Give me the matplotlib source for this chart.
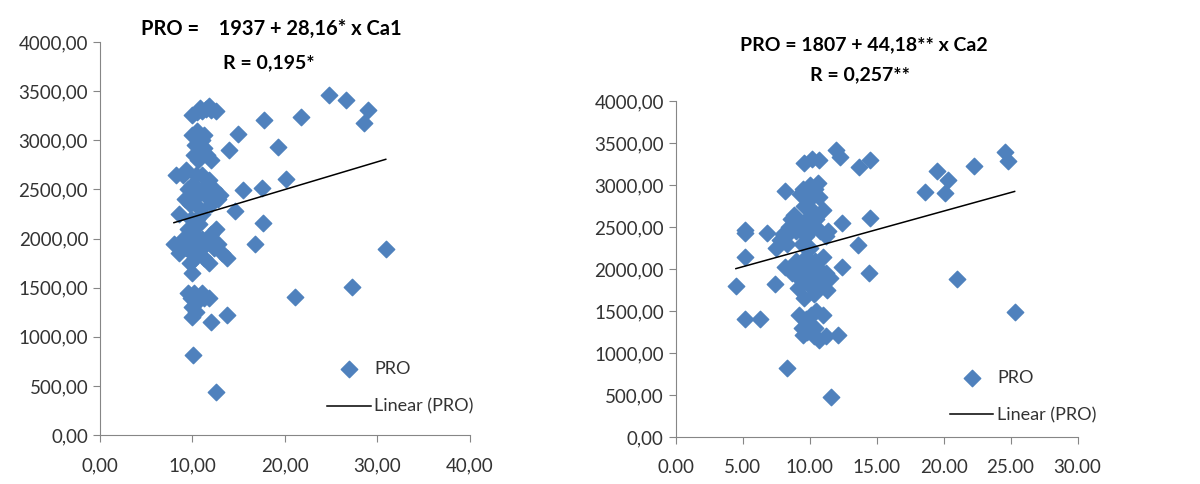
import numpy as np
import matplotlib.pyplot as plt
from matplotlib.ticker import FuncFormatter, MultipleLocator

plt.rcParams['font.family'] = ['Lato', 'DejaVu Sans']

blue = '#4F81BD'
grey = '#868686'

# left panel: Ca1 vs PRO
ca1 = [24.8, 26.6, 29.0, 28.5, 21.7, 17.7, 14.9, 14.0, 19.3, 20.1, 17.5, 15.5, 14.6, 13.0,
       17.6, 16.8, 30.9, 27.2, 21.1, 13.7, 12.0, 10.1, 12.5,
       10.0, 10.5, 11.0, 11.5, 12.0, 12.5, 10.8, 11.8,
       10.0, 10.3, 10.5, 10.2, 10.8, 11.0, 11.3, 11.6, 12.0, 10.6, 11.2,
       8.2, 8.5, 9.0, 9.3, 9.5, 9.7, 10.0, 10.2, 10.4, 10.6, 10.8, 11.0, 11.2, 11.5, 11.8,
       12.0, 12.3, 12.8, 9.8, 10.5, 11.0, 9.2,
       8.0, 8.5, 9.0, 9.3, 9.5, 9.8, 10.0, 10.2, 10.5, 10.7, 11.0, 11.3, 11.5, 11.8, 12.0,
       12.3, 12.8, 13.2, 13.7, 12.5, 10.3, 9.7,
       10.0,
       9.5, 9.8, 10.0, 10.2, 10.0, 10.5, 11.0, 11.3, 11.8, 10.4]
pro1 = [3460, 3410, 3308, 3175, 3240, 3210, 3065, 2900, 2935, 2605, 2520, 2490, 2280, 2440,
        2155, 1950, 1890, 1505, 1405, 1220, 1150, 815, 440,
        3260, 3290, 3300, 3320, 3310, 3300, 3330, 3350,
        3050, 2950, 3100, 2850, 2900, 3000, 3050, 2850, 2800, 2800, 2920,
        2650, 2250, 2650, 2700, 2500, 2350, 2550, 2400, 2650, 2500, 2300, 2650, 2450, 2550, 2600,
        2350, 2500, 2400, 2200, 2200, 2250, 2400,
        1950, 1850, 2000, 1900, 2100, 1950, 1850, 2050, 1900, 2150, 2000, 1800, 1950, 1750, 2050,
        1900, 1950, 1850, 1800, 2100, 1800, 1750,
        1650,
        1450, 1400, 1300, 1450, 1200, 1350, 1450, 1400, 1400, 1250]

# right panel: Ca2 vs PRO
ca2 = [4.5, 5.2, 5.2, 5.2, 5.2, 6.3, 6.8, 7.4, 8.3, 11.6, 8.2, 12.1, 12.4, 12.4, 10.7, 10.7,
       12.0, 12.3, 13.6, 13.7, 14.5, 14.5, 14.4, 18.6, 19.5, 20.3, 20.1, 22.3, 24.6, 24.8,
       21.0, 25.3, 9.6, 10.2,
       7.8, 8.0, 8.3, 8.5, 8.6, 8.8, 9.0, 9.2, 9.3, 9.5, 9.6, 9.7, 9.8, 10.0, 10.1, 10.2, 10.3,
       10.4, 10.5, 10.6, 10.8, 11.0, 11.2, 11.4, 7.5, 8.2, 9.4, 10.0, 9.9,
       8.2, 8.7, 9.0, 9.2, 9.4, 9.5, 9.7, 9.8, 10.0, 10.0, 10.2, 10.4, 10.5, 10.7, 10.8, 11.0,
       11.2, 11.3, 11.5, 9.6, 10.3, 9.1,
       9.2, 9.4, 9.5, 9.7, 9.8, 10.0, 10.1, 10.3, 10.5, 10.7, 11.0, 11.2, 10.4]
pro2 = [1800, 2470, 2430, 2148, 1403, 1403, 2425, 1820, 820, 475, 2933, 1217, 2552, 2030, 2862, 3298,
        3416, 3337, 2287, 3218, 3298, 2604, 1950, 2921, 3171, 3060, 2901, 3226, 3397, 3290,
        1879, 1494, 3258, 3317,
        2350, 2420, 2300, 2500, 2600, 2650, 2450, 2550, 2900, 2950, 2750, 2400, 2600, 3000, 2850, 2700, 2500,
        2950, 2600, 3030, 2450, 2700, 2400, 2450, 2250, 2380, 2300, 2250, 2500,
        2020, 1950, 2100, 1900, 2000, 1850, 2150, 1950, 1800, 2050, 1900, 2100, 1750, 2000, 1850, 2150,
        1950, 1750, 1900, 1650, 1700, 1780,
        1450, 1300, 1220, 1400, 1250, 1350, 1450, 1200, 1500, 1150, 1450, 1200, 1300]

# regression coefficients shown in the titles
fit1 = (1937, 28.16)
fit2 = (1807, 44.18)

comma = FuncFormatter(lambda v, p: f'{v:.2f}'.replace('.', ','))
dot = FuncFormatter(lambda v, p: f'{v:.2f}')

fig = plt.figure(figsize=(12, 4.84), dpi=100)
ax1 = fig.add_axes([0.0833, 0.101, 0.3083, 0.812])
ax2 = fig.add_axes([0.563, 0.097, 0.335, 0.694])


def panel(ax, x, y, fit, xmax, xstep, xfmt):
    ax.scatter(x, y, marker='D', s=70, color=blue, label='PRO', zorder=2)
    xs = np.array([min(x), max(x)])
    ax.plot(xs, fit[0] + fit[1] * xs, color='black', lw=1.1, label='Linear (PRO)', zorder=3)
    ax.set_xlim(0, xmax)
    ax.set_ylim(0, 4000)
    ax.xaxis.set_major_locator(MultipleLocator(xstep))
    ax.yaxis.set_major_locator(MultipleLocator(500))
    ax.xaxis.set_major_formatter(xfmt)
    ax.yaxis.set_major_formatter(comma)
    for s in ['top', 'right']:
        ax.spines[s].set_visible(False)
    for s in ['left', 'bottom']:
        ax.spines[s].set_color(grey)
    ax.tick_params(axis='both', direction='out', length=5, color=grey,
                   labelsize=13.5, labelcolor='#333333')
    ax.tick_params(axis='x', pad=11)
    ax.legend(loc='center left', bbox_to_anchor=(0.66 if xmax == 30 else 0.59, 0.12),
              frameon=False, fontsize=13, borderpad=0, handlelength=2.4,
              handletextpad=0.2, labelspacing=1.2, scatterpoints=1, labelcolor='#333333')


panel(ax1, ca1, pro1, fit1, 40, 10, comma)
panel(ax2, ca2, pro2, fit2, 30, 5, dot)

fig.text(0.226, 0.94, 'PRO =    1937 + 28,16* x Ca1', ha='center', va='center',
         fontsize=14.5, fontweight='bold')
fig.text(0.224, 0.87, 'R = 0,195*', ha='center', va='center', fontsize=14, fontweight='bold')
fig.text(0.72, 0.907, 'PRO = 1807 + 44,18** x Ca2', ha='center', va='center',
         fontsize=14, fontweight='bold')
fig.text(0.717, 0.845, 'R = 0,257**', ha='center', va='center', fontsize=14, fontweight='bold')

fig.savefig('out.png', dpi=100)
